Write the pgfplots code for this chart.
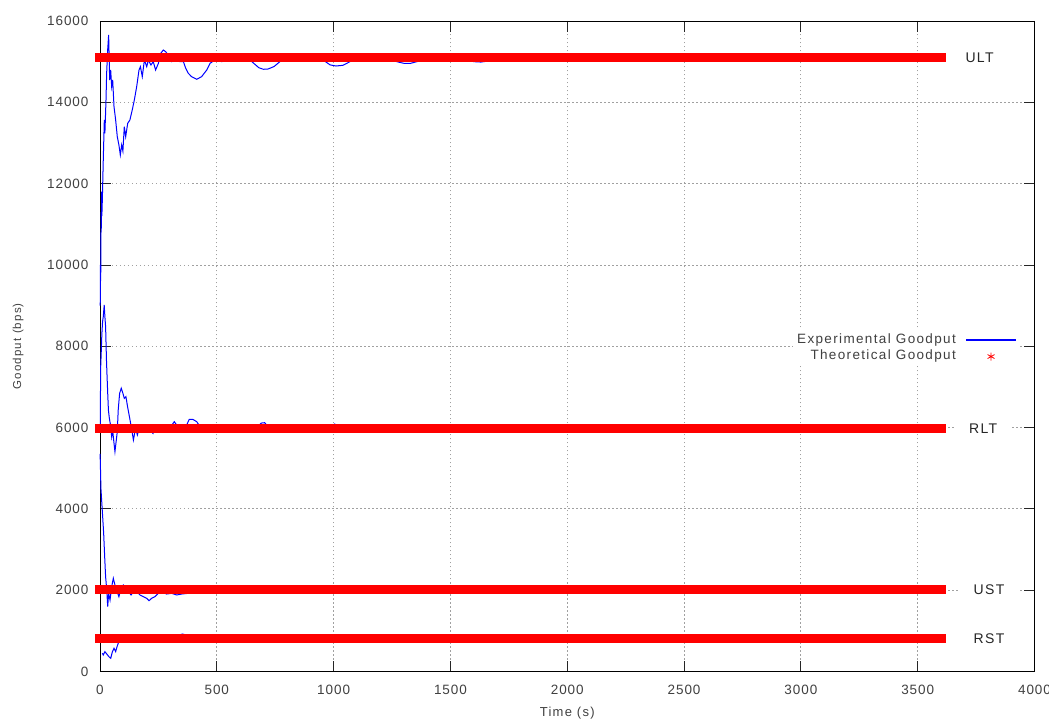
\documentclass[border=0pt]{standalone}
\usepackage{fontspec}
\setmainfont{Liberation Sans}[LetterSpace=10]
\newfontfamily\tickfont{Liberation Sans}[LetterSpace=7]
\usepackage{pgfplots}
\pgfplotsset{compat=1.18}
\definecolor{gpgray}{RGB}{64,64,64}
\definecolor{gridgray}{RGB}{160,160,160}
\definecolor{gpblue}{RGB}{0,0,255}
\pgfplotsset{
  explegend/.style={legend image code/.code={\draw[gpblue, line width=1.5pt] (0pt,0pt) -- (50pt,0pt);}},
  theolegend/.style={legend image code/.code={\draw[draw=red, line width=0.8pt, mark size=4pt] plot[mark=asterisk] coordinates {(25pt,0pt)}; \path (0pt,0pt) (50pt,0pt);}},
}
\begin{document}
\begin{tikzpicture}
\useasboundingbox (-100pt,-48.5pt) rectangle (949pt,671.5pt);
\begin{axis}[
  scale only axis, width=934.5pt, height=650.5pt,
  xmin=0, xmax=4000, ymin=0, ymax=16000,
  xtick={0,500,...,4000}, ytick={0,2000,...,16000},
  scaled ticks=false,
  /pgf/number format/assume math mode=true,
  /pgf/number format/1000 sep={},
  tick align=inside, major tick length=11pt,
  tick style={black!85, line width=0.8pt},
  axis line style={black, line width=0.8pt},
  grid=major,
  grid style={gridgray, line width=0.8pt, dash pattern=on 1.5pt off 2.5pt},
  tick label style={font=\tickfont\fontsize{13.5}{15}\selectfont, text=gpgray},
  yticklabel style={xshift=-8pt},
  xticklabel style={yshift=-10pt},
  xlabel={Time (s)}, ylabel={Goodput (bps)},
  xlabel style={font=\fontsize{13}{15}\selectfont, text=gpgray, at={(axis description cs:0.5,0)}, anchor=center, yshift=-41.5pt},
  ylabel style={font=\fontsize{11.5}{14}\selectfont, text=gpgray, at={(axis description cs:-0.0877,0.5)}, anchor=center},
  clip=false,
  legend cell align=right, legend plot pos=right,
  legend style={at={(rel axis cs:0.9845,0.497)}, anchor=east, draw=none, fill=white,
    font=\fontsize{13.5}{15}\selectfont, row sep=1.2pt, column sep=8pt,
    nodes={inner sep=1.5pt, text height=9.5pt, text depth=3pt}},
]
\addlegendimage{explegend}
\addlegendimage{theolegend}
% ULT experimental
\addplot[gpblue, line width=1pt, forget plot] coordinates {
(1,9000)(2,10000)(3,9600)(4,10600)(5,11300)(6,10900)(7,11800)(8,11200)(10,11600)(14,12581)(18.5,13565)(21,13237)(25.7,14057)(28.5,14713)(32.8,15287)(37,15656)(41.4,14549)(45.7,14795)(50,14385)(54.3,14549)(60,13893)(67,13565)(74,13155)(81,12950)(87,12704)(92.7,12950)(98,12800)(104,13401)(110,13155)(118.5,13483)(128,13565)(138,13811)(147,14057)(157,14385)(167,14795)(173,14877)(181,14631)(190,15041)(200,14877)(207,15041)(218,14918)(228,15000)(238,14795)(250,14959)(260,15205)(271,15287)(281,15246)(292,15164)(307,15000)(328,15041)(342,15000)(357,15000)(367,14836)(378,14713)(392,14631)(414,14566)(435,14631)(457,14795)(471,14959)(492,15041)(521,15000)(549,15041)(580,15060)(610,15090)(640,15050)(660,14950)(680,14850)(700,14812)(720,14820)(745,14880)(770,15000)(790,15080)(850,15120)(930,15100)(960,15020)(985,14920)(1010,14893)(1040,14910)(1070,15000)(1100,15100)(1180,15120)(1230,15080)(1270,15000)(1300,14960)(1330,14960)(1370,15020)(1400,15100)(1500,15130)(1560,15060)(1600,15000)(1630,14990)(1670,15020)(1700,15100)(1800,15130)(1880,15080)(1920,15020)(1960,15010)(2000,15040)(2040,15100)(2150,15130)(2210,15040)(2240,15030)(2270,15050)(2310,15100)(2450,15120)(2500,15050)(2540,15045)(2580,15080)(2750,15120)(2820,15060)(2860,15060)(2900,15100)(3050,15120)(3100,15070)(3130,15075)(3180,15100)(3400,15110)(3600,15100)};
% RLT experimental
\addplot[gpblue, line width=1pt, forget plot] coordinates {
(1,6000)(2,6800)(3,7500)(5,7800)(8,8300)(11,8600)(14,8727)(18,9015)(21,8727)(24,8481)(28,7600)(33,6850)(36,6432)(40,6228)(45,6063)(50,5776)(54,5940)(60,5613)(64,5407)(69,5653)(74,5899)(78,6432)(84,6843)(91,6966)(98,6843)(104,6720)(111,6761)(118,6513)(126,6267)(135,5981)(143,5694)(152,5981)(160,5817)(170,6022)(180,5899)(191,5981)(203,6063)(213,5940)(227,5858)(235,6022)(249,5981)(277,5981)(299,5990)(318,6145)(328,6063)(343,5940)(357,5899)(371,6063)(382,6202)(397,6202)(414,6145)(428,6022)(442,5899)(470,5960)(520,5990)(600,6000)(620,6040)(640,5990)(676,6022)(690,6110)(705,6120)(719,6022)(760,5990)(900,5980)(993,6050)(1005,6087)(1015,6020)(1100,5990)(1500,5985)(2000,5980)(3000,5980)(3600,5980)};
% UST experimental
\addplot[gpblue, line width=1pt, forget plot] coordinates {
(0.5,5350)(2,5000)(4,4500)(7,4218)(11.4,3808)(15.7,3399)(20,2824)(24,2332)(29,2005)(33,1594)(37,1923)(43,1759)(50,2086)(57,2292)(64,2128)(71,2005)(81,1840)(90,2046)(100,2128)(110,2046)(121,1964)(133,1882)(143,1964)(157,1964)(171,1882)(186,1840)(200,1800)(210,1742)(221,1800)(235,1840)(250,1923)(264,1964)(285,1905)(307,1923)(328,1882)(350,1905)(378,1923)(407,1940)(435,1964)(464,1990)(520,2005)(700,2010)(1200,2012)(2000,2012)(3600,2012)};
% RST experimental
\addplot[gpblue, line width=1pt, forget plot] coordinates {
(10,447)(14,406)(21,488)(29,430)(38,365)(46,325)(53,488)(60,570)(67,488)(73,611)(78,693)(83,775)(100,800)(150,810)(250,815)(320,830)(342,898)(352,922)(371,898)(390,830)(500,820)(1000,818)(2000,817)(3600,817)};
% Theoretical
\addplot[red, line width=9.5pt, line cap=rect, forget plot] coordinates {(0,15100)(3600,15100)};
\addplot[red, line width=9.5pt, line cap=rect, forget plot] coordinates {(0,5980)(3600,5980)};
\addplot[red, line width=9.5pt, line cap=rect, forget plot] coordinates {(0,2012)(3600,2012)};
\addplot[red, line width=9.5pt, line cap=rect, forget plot] coordinates {(0,817)(3600,817)};
\legend{\textcolor{gpgray}{Experimental Goodput}, \textcolor{gpgray}{Theoretical Goodput}}
\tikzset{lbl/.style={fill=white, inner xsep=14pt, inner ysep=2pt, font=\fontsize{14}{16}\selectfont, text=black!85}}
\node[lbl] at (axis cs:3765,15100) {ULT};
\node[lbl] at (axis cs:3780,5980) {RLT};
\node[lbl] at (axis cs:3805,2012) {UST};
\node[lbl] at (axis cs:3805,817) {RST};
\end{axis}
\end{tikzpicture}
\end{document}
